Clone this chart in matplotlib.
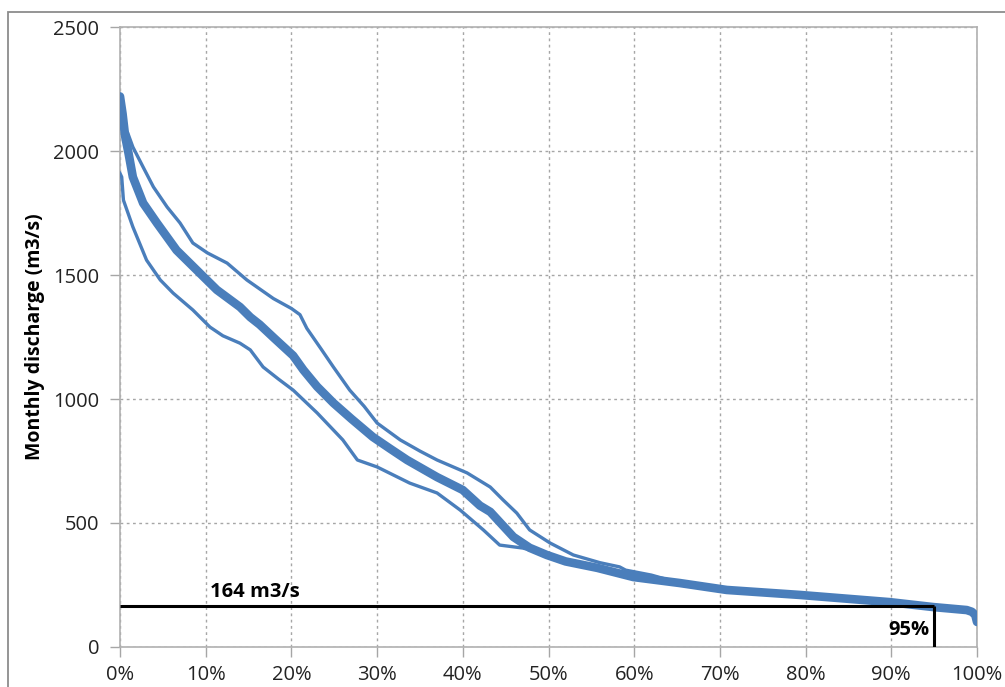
import matplotlib
matplotlib.use("Agg")
import matplotlib.pyplot as plt
from matplotlib.patches import Rectangle
from matplotlib.ticker import FuncFormatter

# ---- data (exceedance % vs monthly discharge m3/s) ----
median_x = [0, 0.3, 0.6, 1, 1.5, 2.7, 4.3, 6.6, 9.3, 11.3, 14, 15.2, 16.3, 18, 20.2,
            21.4, 23, 24.9, 27, 29.5, 31.5, 33.5, 37, 40, 42, 43.2, 45.9, 47.8, 49.8,
            52, 55.7, 59.9, 65.3, 70.8, 79.3, 89.8, 94.9, 98.8, 99.4, 99.8, 100]
median_y = [2220, 2150, 2060, 1990, 1895, 1790, 1710, 1600, 1508, 1440, 1371, 1330, 1300,
            1245, 1175, 1117, 1050, 984, 920, 847, 800, 754, 685, 633, 570, 545, 444, 400,
            371, 345, 319, 282, 258, 230, 210, 181, 161, 149, 142, 129, 101]

upper_x = [0, 0.5, 0.9, 1.5, 2.7, 3.9, 5.5, 7, 8.5, 10.2, 12.5, 14.8, 17.9, 20, 21, 21.8,
           23.5, 24.9, 26.8, 28.5, 30, 32.7, 35, 37, 40.5, 43.2, 44.7, 46.3, 47.8, 50.2,
           52.9, 56, 58.3, 59, 62, 65.3, 70.8, 79.3, 89.8, 94.9, 98.8, 99.4, 99.8, 100]
upper_y = [2120, 2090, 2073, 2016, 1935, 1855, 1774, 1710, 1629, 1589, 1548, 1480, 1405,
           1365, 1340, 1285, 1200, 1129, 1036, 970, 903, 835, 790, 754, 702, 645, 593, 540,
           472, 419, 371, 340, 323, 310, 290, 258, 230, 210, 181, 161, 149, 142, 129, 101]

lower_x = [0, 0.2, 0.4, 1.5, 3.1, 4.7, 6.2, 8.5, 10.5, 12, 14, 15.2, 16.7, 18.5, 20.2, 23,
           26, 27.7, 30, 33.8, 37, 39.7, 42.4, 44.3, 47, 48.5, 50, 52, 55.7, 59.9, 65.3,
           70.8, 79.3, 89.8, 94.9, 98.8, 99.4, 99.8, 100]
lower_y = [1910, 1895, 1802, 1694, 1560, 1480, 1427, 1359, 1290, 1255, 1225, 1198, 1129,
           1080, 1036, 944, 835, 754, 726, 661, 621, 552, 472, 411, 399, 385, 368, 345, 319,
           282, 258, 230, 210, 181, 161, 149, 142, 129, 101]

q95_value = 164
q95_pct = 95
x_ticks = [0, 10, 20, 30, 40, 50, 60, 70, 80, 90, 100]
y_ticks = [0, 500, 1000, 1500, 2000, 2500]

# ---- style ----
plt.rcParams['font.family'] = ['Open Sans', 'DejaVu Sans']
blue = '#4a7ebb'
grid_col = '#a6a6a6'

fig = plt.figure(figsize=(10.05, 6.87), dpi=100)
W, H = 1005, 687
ax = fig.add_axes([120 / W, 1 - 647 / H, (977 - 120) / W, (647 - 27) / H])

# outer chart frame
fig.patches.append(Rectangle((8 / W, -0.1), 1.2, 1 - 12 / H + 0.1, transform=fig.transFigure,
                             fill=False, edgecolor='#8c8c8c', linewidth=1.3))

ax.plot(upper_x, upper_y, color=blue, lw=2.4, solid_joinstyle='round', zorder=3)
ax.plot(lower_x, lower_y, color=blue, lw=2.4, solid_joinstyle='round', zorder=3)
ax.plot(median_x, median_y, color=blue, lw=6.2, solid_joinstyle='round',
        solid_capstyle='round', zorder=4)

# 95% reference lines
ax.plot([0, q95_pct], [q95_value, q95_value], color='black', lw=2.2, zorder=5,
        solid_capstyle='butt')
ax.plot([q95_pct, q95_pct], [q95_value, 0], color='black', lw=2.2, zorder=5,
        solid_capstyle='butt')
ax.text(10.5, q95_value + 18, f'{q95_value} m3/s', fontsize=14.5, fontweight='bold',
        ha='left', va='bottom', zorder=6)
ax.text(q95_pct - 0.6, 68, f'{q95_pct}%', fontsize=14.5, fontweight='bold',
        ha='right', va='center', zorder=6)

ax.set_xlim(0, 100)
ax.set_ylim(0, 2500)
ax.set_xticks(x_ticks)
ax.set_yticks(y_ticks)
ax.xaxis.set_major_formatter(FuncFormatter(lambda v, p: f'{int(v)}%'))
ax.tick_params(axis='both', direction='out', length=7, color=grid_col, labelsize=14.5,
               labelcolor='#222222', width=1)
ax.tick_params(axis='x', pad=6)
ax.tick_params(axis='y', pad=8)
ax.grid(True, color=grid_col, linestyle=(0, (2, 2.5)), linewidth=1)
ax.set_axisbelow(True)
for s in ax.spines.values():
    s.set_color('#b0b0b0')
    s.set_linewidth(1.2)

ax.set_ylabel('Monthly discharge (m3/s)', fontsize=14, fontweight='bold', labelpad=6)

fig.savefig('out.png', dpi=100)
